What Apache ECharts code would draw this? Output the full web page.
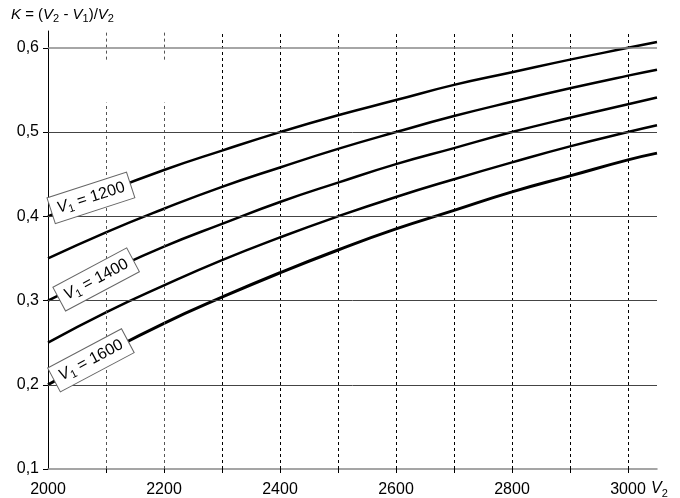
<!DOCTYPE html>
<html>
<head>
<meta charset="utf-8">
<script src="https://cdn.jsdelivr.net/npm/echarts@6/dist/echarts.min.js"></script>
<style>html,body{margin:0;padding:0;background:#fff}#c{width:680px;height:498px}</style>
</head>
<body>
<div id="c"></div>
<script>
const v2 = [2000, 2100, 2200, 2300, 2400, 2500, 2600, 2700, 2800, 2900, 3000, 3050];
const k1200 = [0.400, 0.429, 0.455, 0.478, 0.500, 0.520, 0.538, 0.556, 0.571, 0.586, 0.600, 0.607];
const k1300 = [0.350, 0.381, 0.409, 0.435, 0.458, 0.480, 0.500, 0.519, 0.536, 0.552, 0.567, 0.574];
const k1400 = [0.300, 0.333, 0.364, 0.391, 0.417, 0.440, 0.462, 0.481, 0.500, 0.517, 0.533, 0.541];
const k1500 = [0.250, 0.286, 0.318, 0.348, 0.375, 0.400, 0.423, 0.444, 0.464, 0.483, 0.500, 0.508];
const k1600 = [0.200, 0.238, 0.273, 0.304, 0.333, 0.360, 0.385, 0.407, 0.429, 0.448, 0.467, 0.475];
const xTickLabels = [2000, 2200, 2400, 2600, 2800, 3000];
const xGrid = [2100, 2200, 2300, 2400, 2500, 2600, 2700, 2800, 2900, 3000];
const xGridBroken = [2100, 2200];
const yTickLabels = [0.1, 0.2, 0.3, 0.4, 0.5, 0.6];
const yGrid = [0.2, 0.3, 0.4, 0.5];
const yTop = 0.6;
const curveNames = ['1200', '1300', '1400', '1500', '1600'];
const labelNames = ['1200', '1400', '1600'];
const labelV2 = [2074, 2083, 2074];
const labelK = [0.422, 0.325, 0.229];
const labelAngle = [18, 28, 28];

const curves = [k1200, k1300, k1400, k1500, k1600];
const font = 'Liberation Sans, Arial, Helvetica, sans-serif';
const yMin = 0.1, yMax = 0.62;
const gapLo = 0.535, gapHi = 0.586;

const chart = echarts.init(document.getElementById('c'));

const vLines = [];
xGrid.forEach(x => {
  if (xGridBroken.indexOf(x) >= 0) {
    vLines.push([{coord: [x, yMin], lineStyle: {color: '#555'}}, {coord: [x, gapLo]}]);
    vLines.push([{coord: [x, gapHi], lineStyle: {color: '#555'}}, {coord: [x, yMax]}]);
  } else {
    vLines.push({xAxis: x});
  }
});

const series = [];
series.push({
  type: 'line', data: [], z: 1, silent: true,
  markLine: {
    silent: true, symbol: 'none', label: {show: false},
    lineStyle: {color: '#000', width: 1, type: [3, 3]},
    data: vLines
  }
});
series.push({
  type: 'line', data: [], z: 1, silent: true,
  markLine: {
    silent: true, symbol: 'none', label: {show: false},
    lineStyle: {color: '#444', width: 1, type: 'solid'},
    data: yGrid.map(y => ({yAxis: y})).concat([{yAxis: yTop, lineStyle: {color: '#888', width: 1.5}}])
  }
});
curves.forEach((arr, i) => {
  series.push({
    name: curveNames[i], type: 'line', smooth: true, symbol: 'none', z: 3,
    lineStyle: {color: '#000', width: i === 4 ? 3 : 2.5},
    data: v2.map((x, j) => [x, arr[j]])
  });
});
series.push({
  type: 'line', data: [], z: 10, silent: true,
  markPoint: {
    symbol: 'circle', symbolSize: 1, itemStyle: {color: 'rgba(0,0,0,0)'},
    data: labelNames.map((n, i) => ({
      coord: [labelV2[i], labelK[i]],
      label: {
        show: true, position: 'inside', rotate: labelAngle[i],
        formatter: '{v|V}{s|1}{t| = ' + n + '}',
        backgroundColor: '#fff', borderColor: '#666', borderWidth: 1,
        padding: [3, 6, 3, 6],
        rich: {
          v: {fontFamily: font, fontSize: 16, fontStyle: 'italic', color: '#000', lineHeight: 20, verticalAlign: 'middle'},
          s: {fontFamily: font, fontSize: 11, color: '#000', lineHeight: 10, verticalAlign: 'bottom'},
          t: {fontFamily: font, fontSize: 16, color: '#000', lineHeight: 20, verticalAlign: 'middle'}
        }
      }
    }))
  }
});

chart.setOption({
  animation: false,
  backgroundColor: '#fff',
  grid: {left: 48, right: 23, top: 31, bottom: 29},
  xAxis: {
    type: 'value', min: 2000, max: 3050, interval: 100,
    axisLine: {show: true, onZero: false, lineStyle: {color: '#888', width: 1.5}},
    axisTick: {show: true, length: 4, customValues: xGrid, lineStyle: {color: '#000'}},
    axisLabel: {customValues: xTickLabels, color: '#000', fontSize: 16, fontFamily: font, margin: 13,
      formatter: v => String(v)},
    splitLine: {show: false}
  },
  yAxis: {
    type: 'value', min: yMin, max: yMax, interval: 0.1,
    axisLine: {show: true, lineStyle: {color: '#000', width: 1}},
    axisTick: {show: true, length: 5, customValues: yTickLabels, lineStyle: {color: '#000'}},
    axisLabel: {customValues: yTickLabels, color: '#000', fontSize: 16, fontFamily: font, margin: 9,
      formatter: v => v.toFixed(1).replace('.', ',')},
    splitLine: {show: false}
  },
  graphic: [
    {
      type: 'text', left: 11, top: 7, z: 20,
      style: {
        text: '{i|K}{n| = (}{i|V}{s|2}{n| - }{i|V}{s|1}{n|)/}{i|V}{s|2}',
        rich: {
          i: {fontFamily: font, fontSize: 15, fontStyle: 'italic', fill: '#000', lineHeight: 20, verticalAlign: 'middle'},
          n: {fontFamily: font, fontSize: 15, fill: '#000', lineHeight: 20, verticalAlign: 'middle'},
          s: {fontFamily: font, fontSize: 11, fill: '#000', lineHeight: 10, verticalAlign: 'bottom'}
        }
      }
    },
    {
      type: 'text', left: 651, top: 481, z: 20,
      style: {
        text: '{i|V}{s|2}',
        rich: {
          i: {fontFamily: font, fontSize: 16, fontStyle: 'italic', fill: '#000', lineHeight: 20, verticalAlign: 'middle'},
          s: {fontFamily: font, fontSize: 11, fill: '#000', lineHeight: 10, verticalAlign: 'bottom'}
        }
      }
    }
  ],
  series: series
});
</script>
</body>
</html>
